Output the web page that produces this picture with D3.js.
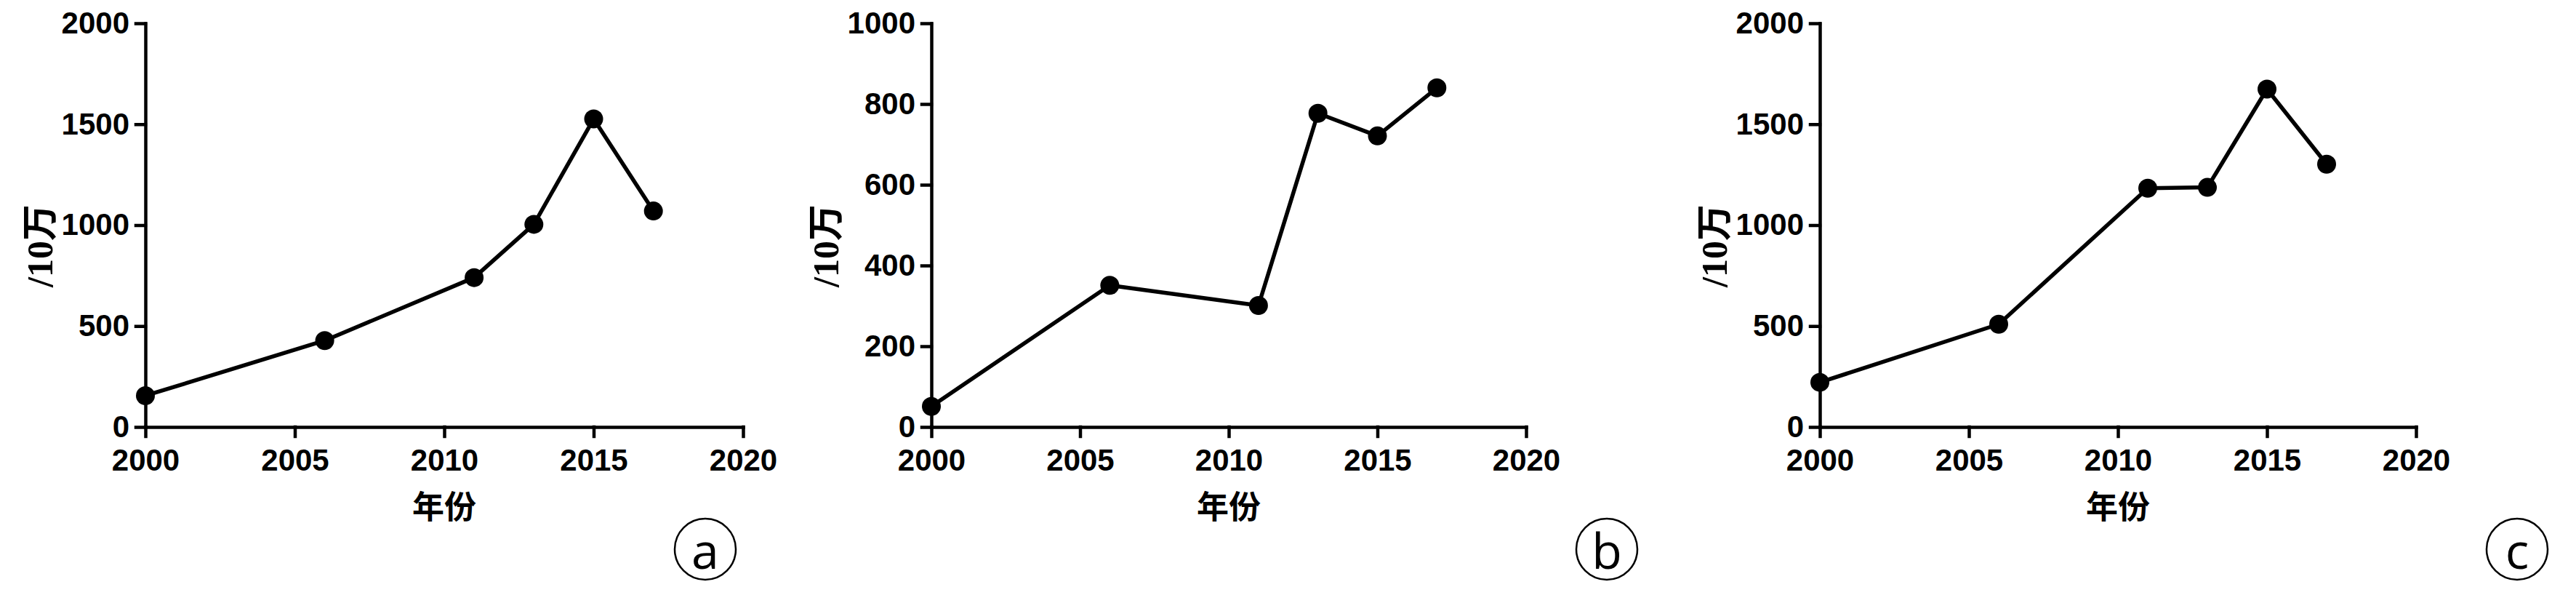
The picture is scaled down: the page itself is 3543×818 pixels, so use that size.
<!DOCTYPE html>
<html>
<head>
<meta charset="utf-8">
<script src="https://cdn.jsdelivr.net/npm/d3@7"></script>
<style>
  html, body { margin: 0; padding: 0; background: #fff; }
  svg { display: block; }
</style>
</head>
<body>
<svg id="chart" width="3543" height="818"></svg>
<script>
// ---- data ----
const years = [2000, 2006, 2011, 2013, 2015, 2017];
const seriesA = [155, 428, 740, 1004, 1526, 1070];
const seriesB = [51, 351, 301, 777, 721, 840];
const seriesC = [221, 509, 1183, 1187, 1674, 1302];
const xTicks = [2000, 2005, 2010, 2015, 2020];
const yTicksA = [0, 500, 1000, 1500, 2000];
const yTicksB = [0, 200, 400, 600, 800, 1000];
const yTicksC = [0, 500, 1000, 1500, 2000];
const yMaxes = [2000, 1000, 2000];
const panelLabels = ["a", "b", "c"];
const xTitle = "年份";
const yTitle = "/10万";

// ---- layout (not data) ----
const layout = [
  { x0: 200, x1: 1022, circleX: 970 },
  { x0: 1281, x1: 2099, circleX: 2210 },
  { x0: 2503, x1: 3323, circleX: 3462 }
];
const yTop = 32, yBottom = 587;
const series = [seriesA, seriesB, seriesC];
const yTicks = [yTicksA, yTicksB, yTicksC];

const svg = d3.select("#chart");

layout.forEach((L, i) => {
  const g = svg.append("g");
  const x = d3.scaleLinear().domain([2000, 2020]).range([L.x0, L.x1]);
  const y = d3.scaleLinear().domain([0, yMaxes[i]]).range([yBottom, yTop]);

  const xAxis = d3.axisBottom(x).tickValues(xTicks).tickFormat(d3.format("d"))
    .tickSize(13).tickSizeOuter(0).tickPadding(17);
  const yAxis = d3.axisLeft(y).tickValues(yTicks[i]).tickFormat(d3.format("d"))
    .tickSize(13).tickSizeOuter(0).tickPadding(9);

  const gx = g.append("g").attr("transform", `translate(0,${yBottom})`).call(xAxis);
  const gy = g.append("g").attr("transform", `translate(${L.x0},0)`).call(yAxis);

  [gx, gy].forEach(a => {
    a.select(".domain").attr("stroke", "#000").attr("stroke-width", 4.5).attr("stroke-linecap", "square");
    a.selectAll(".tick line").attr("stroke", "#000").attr("stroke-width", 4.5).attr("stroke-linecap", "square");
    a.selectAll(".tick text")
      .attr("fill", "#000")
      .style("font-family", "'Liberation Sans', Arial, sans-serif")
      .style("font-weight", "bold")
      .style("font-size", "42px");
  });

  const pts = years.map((yr, k) => [yr, series[i][k]]);
  const line = d3.line().x(d => x(d[0])).y(d => y(d[1]));
  g.append("path")
    .datum(pts)
    .attr("d", line)
    .attr("fill", "none")
    .attr("stroke", "#000")
    .attr("stroke-width", 5.5)
    .attr("stroke-linejoin", "round");

  g.selectAll("circle.pt")
    .data(pts)
    .join("circle")
    .attr("class", "pt")
    .attr("cx", d => x(d[0]))
    .attr("cy", d => y(d[1]))
    .attr("r", 13)
    .attr("fill", "#000");

  g.append("text")
    .attr("x", (L.x0 + L.x1) / 2)
    .attr("y", 694)
    .attr("text-anchor", "middle")
    .attr("dominant-baseline", "central")
    .style("font-family", "'Noto Sans CJK SC', sans-serif")
    .style("font-size", "44px")
    .style("font-weight", "700")
    .attr("fill", "#000")
    .text(xTitle);

  g.append("text")
    .attr("transform", `translate(${L.x0 - 145},338) rotate(-90)`)
    .attr("text-anchor", "middle")
    .attr("dominant-baseline", "central")
    .style("font-family", "'Liberation Serif', 'Noto Sans CJK SC', serif")
    .style("font-size", "50px")
    .style("font-weight", "bold")
    .attr("fill", "#000")
    .text(yTitle);

  g.append("circle")
    .attr("cx", L.circleX)
    .attr("cy", 755)
    .attr("r", 42)
    .attr("fill", "none")
    .attr("stroke", "#000")
    .attr("stroke-width", 2.5);
  g.append("text")
    .attr("x", L.circleX)
    .attr("y", 755)
    .attr("text-anchor", "middle")
    .attr("dominant-baseline", "central")
    .style("font-family", "'Open Sans', 'Noto Sans', sans-serif")
    .style("font-size", "68px")
    .attr("fill", "#000")
    .text(panelLabels[i]);
});
</script>
</body>
</html>
